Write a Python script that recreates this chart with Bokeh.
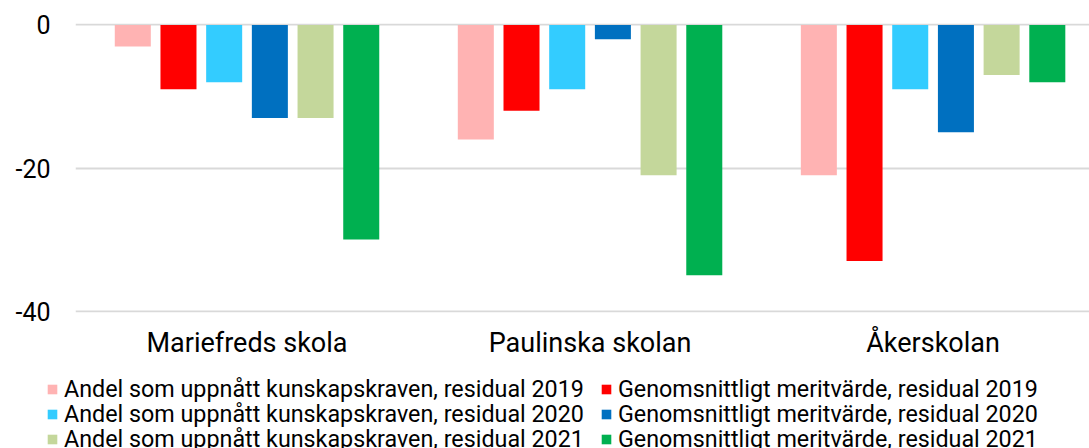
from bokeh.plotting import figure
from bokeh.models import ColumnDataSource, FixedTicker, Legend, LegendItem, Range1d
from bokeh.transform import dodge
from bokeh.embed import file_html
from bokeh.resources import INLINE

schools = ["Mariefreds skola", "Paulinska skolan", "Åkerskolan"]
series_names = [
    "Andel som uppnått kunskapskraven, residual 2019",
    "Genomsnittligt meritvärde, residual 2019",
    "Andel som uppnått kunskapskraven, residual 2020",
    "Genomsnittligt meritvärde, residual 2020",
    "Andel som uppnått kunskapskraven, residual 2021",
    "Genomsnittligt meritvärde, residual 2021",
]
andel_2019 = [-3, -16, -21]
merit_2019 = [-9, -12, -33]
andel_2020 = [-8, -9, -9]
merit_2020 = [-13, -2, -15]
andel_2021 = [-13, -21, -7]
merit_2021 = [-30, -35, -8]
y_ticks = [0, -20, -40]
y_labels = ["0", "-20", "-40"]

colors = ["#FFB3B3", "#FF0000", "#33CCFF", "#0070C0", "#C4D79B", "#00B050"]
values = [andel_2019, merit_2019, andel_2020, merit_2020, andel_2021, merit_2021]
keys = ["a19", "m19", "a20", "m20", "a21", "m21"]

xpos = [0.5, 1.5, 2.5]
data = {"x": xpos}
for k, v in zip(keys, values):
    data[k] = v
src = ColumnDataSource(data)

FONT = "Roboto"
W = 1089
H1 = 370
H2 = 448 - H1

p = figure(width=W, height=H1, output_backend="svg", toolbar_location=None,
           x_range=Range1d(0, 2.956), y_range=Range1d(-40.2, 0.2),
           min_border_left=75, min_border_right=0, min_border_top=23,
           min_border_bottom=H1 - 312)
p.outline_line_color = None

pitch = 0.1332
for i, (k, c) in enumerate(zip(keys, colors)):
    p.vbar(x=dodge("x", (i - 2.5) * pitch), top=k, bottom=0, width=0.105,
           source=src, fill_color=c, line_color=None)

p.xgrid.grid_line_color = None
p.ygrid.grid_line_color = "#D9D9D9"
p.ygrid.grid_line_width = 2
p.ygrid.ticker = FixedTicker(ticks=y_ticks)

p.yaxis.ticker = FixedTicker(ticks=y_ticks)
p.yaxis.major_label_overrides = {t: s for t, s in zip(y_ticks, y_labels)}
p.yaxis.axis_line_color = None
p.yaxis.major_tick_line_color = None
p.yaxis.minor_tick_line_color = None
p.yaxis.major_label_standoff = 19
p.yaxis.major_label_text_font = FONT
p.yaxis.major_label_text_font_size = "25px"
p.yaxis.major_label_text_color = "#000000"

p.xaxis.ticker = FixedTicker(ticks=xpos)
p.xaxis.major_label_overrides = {x: s for x, s in zip(xpos, schools)}
p.xaxis.axis_line_color = None
p.xaxis.major_tick_line_color = None
p.xaxis.minor_tick_line_color = None
p.xaxis.major_label_standoff = 8
p.xaxis.major_label_text_font = FONT
p.xaxis.major_label_text_font_size = "27px"
p.xaxis.major_label_text_color = "#000000"

# legend strip (separate root so its frame is not aligned with the chart's)
q = figure(width=W, height=H2, output_backend="svg", toolbar_location=None,
           x_range=Range1d(0, 1), y_range=Range1d(0, 1),
           min_border_left=0, min_border_right=0, min_border_top=0, min_border_bottom=0)
q.outline_line_color = None
q.axis.visible = False
q.grid.visible = False

# legend proxies: one point each, kept outside the strip's visible range
proxy = ColumnDataSource(dict(x=[5], top=[5]))
legend_renderers = [q.vbar(x="x", top="top", width=0.1, source=proxy, fill_color=c, line_color=None)
                    for c in colors]

LH = 30
col_x = [46, 600]
row_center = [18.5, 43.6, 68.8]
for i in range(6):
    row, col = divmod(i, 2)
    vy = H2 - row_center[row] - LH / 2
    lg = Legend(items=[LegendItem(label=series_names[i], renderers=[legend_renderers[i]])],
                location=(col_x[col], vy), orientation="vertical",
                label_text_font=FONT, label_text_font_size="23.3px", label_text_color="#000000",
                glyph_width=12, glyph_height=12, label_standoff=6, label_height=LH,
                spacing=0, padding=0, margin=0, border_line_color=None,
                background_fill_alpha=0)
    q.add_layout(lg, "center")

open("out.html", "w").write(file_html([p, q], INLINE))
